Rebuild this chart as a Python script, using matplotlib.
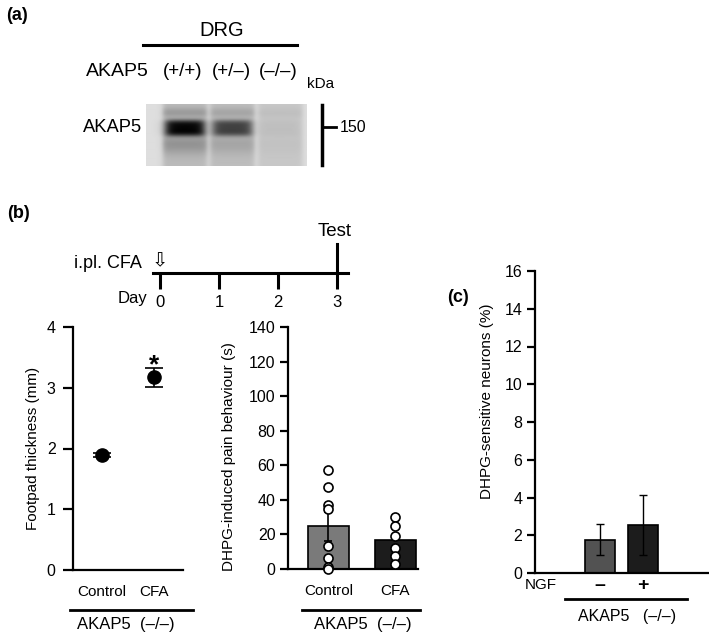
import numpy as np
import matplotlib.pyplot as plt
from matplotlib.lines import Line2D

plt.rcParams['font.family'] = ['Liberation Sans', 'DejaVu Sans']

W, H = 709, 636

# (a) western blot, DRG
genotypes = ['(+/+)', '(+/\u2013)', '(\u2013/\u2013)']
band_main = [0.70, 0.48, 0.03]     # relative AKAP5 band strength per lane
band_upper = [0.12, 0.09, 0.03]
band_lower = [0.15, 0.09, 0.02]
lane_bg = [0.14, 0.13, 0.09]
marker_kda = '150'

# (b) timeline
days = [0, 1, 2, 3]

# (b) footpad thickness (mm)
fp_groups = ['Control', 'CFA']
fp_mean = [1.89, 3.17]
fp_sem = [0.03, 0.15]

# (b) DHPG-induced pain behaviour (s)
beh_groups = ['Control', 'CFA']
beh_mean = [24.6, 17.0]
beh_sem = [8.4, 0.0]
beh_ctrl = [57.3, 47.6, 37.0, 34.5, 13.3, 6.2, 1.3, 0.0]
beh_cfa = [30.3, 24.7, 19.0, 12.0, 7.5, 3.0]

# (c) DHPG-sensitive neurons (%)
ngf = ['\u2013', '+']
neur_mean = [1.76, 2.55]
neur_sem = [0.82, 1.60]


def box(l, t, r, b):
    return [l / W, 1 - b / H, (r - l) / W, (b - t) / H]


def ftxt(x, y, s, **kw):
    kw.setdefault('ha', 'center')
    kw.setdefault('va', 'center')
    fig.text(x / W, 1 - y / H, s, **kw)


def fline(x0, x1, y, lw=2.0):
    fig.add_artist(Line2D([x0 / W, x1 / W], [1 - y / H, 1 - y / H],
                          transform=fig.transFigure, color='k', lw=lw))


def style_axes(ax):
    for s in ['top', 'right']:
        ax.spines[s].set_visible(False)
    for s in ['left', 'bottom']:
        ax.spines[s].set_linewidth(1.6)
    ax.tick_params(axis='y', direction='out', length=6, width=1.6,
                   labelsize=11.5, pad=3)
    ax.tick_params(axis='x', length=0, labelsize=11, pad=11)


fig = plt.figure(figsize=(W / 100, H / 100), dpi=100)

# ---------------- (a) ----------------
ftxt(17, 15, '(a)', fontsize=13, fontweight='bold')
ftxt(221.5, 31, 'DRG', fontsize=14.5)
fline(143, 297, 44.5, lw=2.2)
ftxt(117.5, 72, 'AKAP5', fontsize=14)
lane_x = [184.5, 232, 280]
for gx, g in zip([182.5, 231, 278], genotypes):
    ftxt(gx, 72, g, fontsize=13.5)
ftxt(321, 84, 'kDa', fontsize=11)
ftxt(113, 127, 'AKAP5', fontsize=13.2)

ax_b = fig.add_axes(box(146, 104, 307, 166))
rows, cols = 62, 161
yy = np.arange(rows)[:, None]
xx = np.arange(cols)[None, :]
img = np.full((rows, cols), 0.13)
for lx, m, u, lo, b in zip(lane_x, band_main, band_upper, band_lower,
                           lane_bg):
    c = lx - 146
    lane = 1 / (1 + np.exp((np.abs(xx - c) - 22) / 1.5))
    core = 1 / (1 + np.exp((np.abs(xx - c) - 19) / 2.5))
    prof = (b + u * np.exp(-((yy - 9) / 5.0) ** 2)
            + lo * np.exp(-((yy - 40) / 10.0) ** 2))
    img = img + lane * prof + core * m * np.exp(-((yy - 24) / 8.0) ** 4)
ax_b.imshow(img, cmap='gray_r', vmin=0, vmax=1, aspect='auto',
            interpolation='bilinear')
ax_b.axis('off')

fig.add_artist(Line2D([321.5 / W] * 2, [1 - 105 / H, 1 - 165 / H],
                      transform=fig.transFigure, color='k', lw=2.5))
fline(321.5, 336, 126.5, lw=2)
ftxt(353, 128, marker_kda, fontsize=11.5)

# ---------------- (b) timeline ----------------
ftxt(18, 213, '(b)', fontsize=13, fontweight='bold')
ax_t = fig.add_axes(box(153, 244, 348, 289))
ax_t.set_xlim(-7 / 59, 3 + 11 / 59)
ax_t.set_ylim(-15.7, 29.3)
for s in ['top', 'right', 'left']:
    ax_t.spines[s].set_visible(False)
ax_t.spines['bottom'].set_position(('data', 0))
ax_t.spines['bottom'].set_linewidth(2.2)
ax_t.set_yticks([])
ax_t.set_xticks(days)
ax_t.set_xticklabels([str(d) for d in days])
ax_t.tick_params(axis='x', direction='out', length=11.3, width=2.2,
                 labelsize=12, pad=4)
ax_t.plot([days[-1], days[-1]], [0, 29.3], color='k', lw=2.2,
          clip_on=False)
ax_t.patch.set_visible(False)
ftxt(335, 232, 'Test', fontsize=13.5)
ftxt(107.5, 263, 'i.pl. CFA', fontsize=13)
ftxt(160, 261, '\u21e9', fontsize=14, family=['DejaVu Sans'])
ftxt(132.5, 298, 'Day', fontsize=12)

# ---------------- (b) footpad ----------------
ax1 = fig.add_axes(box(73, 327, 183, 570))
x = np.arange(len(fp_groups))
ax1.errorbar(x, fp_mean, yerr=fp_sem, fmt='o', color='k', ms=9.5,
             capsize=6.5, elinewidth=1.2, capthick=1.2, zorder=3)
ax1.text(x[1], fp_mean[1] + fp_sem[1] - 0.06, '*', ha='center',
         va='baseline', fontsize=19, fontweight='bold')
ax1.set_xlim(-0.56, 1.56)
ax1.set_ylim(0, 4)
ax1.set_yticks(range(5))
ax1.set_xticks(x)
ax1.set_xticklabels(fp_groups)
style_axes(ax1)
ax1.tick_params(axis='y', length=7, pad=5.5)
ax1.set_ylabel('Footpad thickness (mm)', fontsize=11, va='center')
ax1.yaxis.set_label_coords(-0.368, 0.5)
fline(70, 193, 610)
ftxt(126, 625, 'AKAP5  (\u2013/\u2013)', fontsize=12)

# ---------------- (b) DHPG behaviour ----------------
ax2 = fig.add_axes(box(288, 327, 418, 569))
x = np.arange(len(beh_groups))
ax2.bar(x, beh_mean, width=0.61, color=['#7a7a7a', '#1c1c1c'],
        edgecolor='k', lw=1.2, zorder=2)
ax2.errorbar(x[0], beh_mean[0], yerr=beh_sem[0], fmt='none', ecolor='k',
             capsize=3, elinewidth=1.2, capthick=1.2, zorder=3)
ax2.plot(np.full(len(beh_ctrl), x[0]), beh_ctrl, 'o', mfc='white',
         mec='k', ms=6.5, mew=1.2, zorder=4, clip_on=False)
ax2.plot(np.full(len(beh_cfa), x[1]), beh_cfa, 'o', mfc='white',
         mec='k', ms=6.5, mew=1.2, zorder=4, clip_on=False)
ax2.set_xlim(-0.604, 1.336)
ax2.set_ylim(0, 140)
ax2.set_yticks(range(0, 141, 20))
ax2.set_xticks(x)
ax2.set_xticklabels(beh_groups)
style_axes(ax2)
ax2.set_ylabel('DHPG-induced pain behaviour (s)', fontsize=11,
               va='center')
ax2.yaxis.set_label_coords(-0.45, 0.463)
fline(302, 420, 610)
ftxt(363, 624, 'AKAP5  (\u2013/\u2013)', fontsize=12)

# ---------------- (c) ----------------
ftxt(458, 298, '(c)', fontsize=13, fontweight='bold')
ax3 = fig.add_axes(box(535, 271, 708, 573))
x = np.arange(len(ngf))
ax3.bar(x, neur_mean, width=0.7, color=['#525252', '#1c1c1c'],
        edgecolor='k', lw=1.2, zorder=2)
ax3.errorbar(x, neur_mean, yerr=neur_sem, fmt='none', ecolor='k',
             capsize=3, elinewidth=1, capthick=1, zorder=3)
ax3.set_xlim(-1.51, 2.51)
ax3.set_ylim(0, 16)
ax3.set_yticks(range(0, 17, 2))
ax3.set_xticks(x)
style_axes(ax3)
ax3.set_xticklabels(ngf, fontweight='bold', fontsize=14)
ax3.tick_params(axis='x', pad=3)
ax3.set_ylabel('DHPG-sensitive neurons (%)', fontsize=11, va='center')
ax3.yaxis.set_label_coords(-0.28, 0.57)
ftxt(541, 585, 'NGF', fontsize=11)
fline(565, 687, 599)
ftxt(627, 617, 'AKAP5   (\u2013/\u2013)', fontsize=11.5)

fig.savefig('out.png', dpi=100)
